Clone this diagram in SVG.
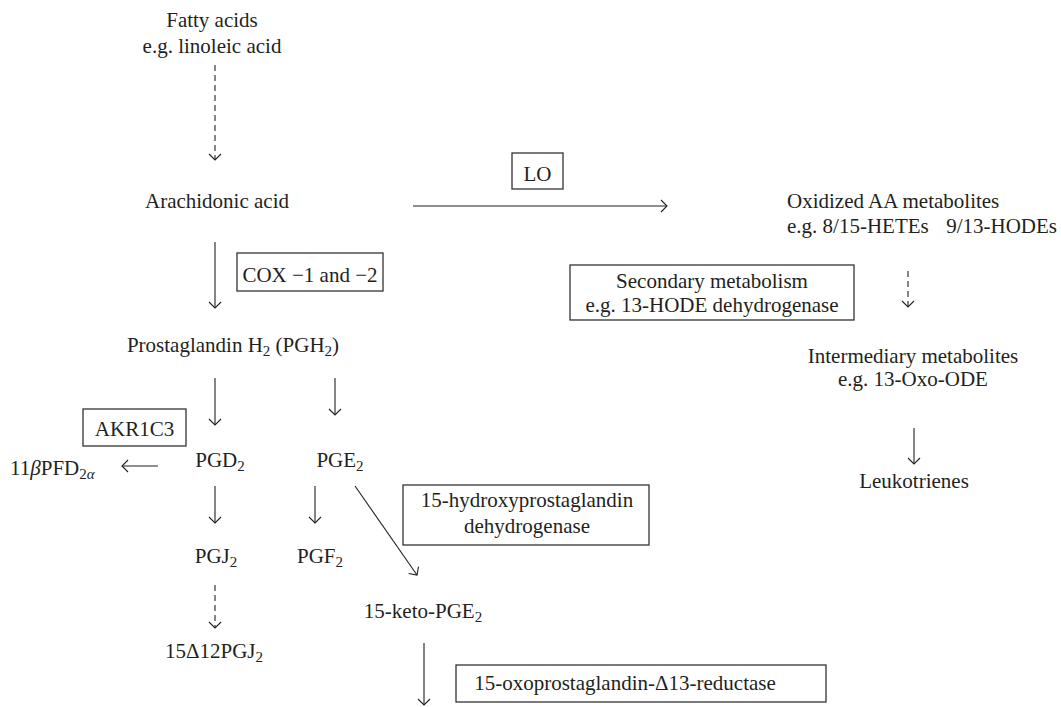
<svg xmlns="http://www.w3.org/2000/svg" width="1061" height="707" viewBox="0 0 1061 707">
<style>
text { font-family: "Liberation Serif", "Times New Roman", serif; font-size: 21px; fill: #231f20; }
.c { text-anchor: middle; }
.s { font-size: 15px; }
.box { fill: none; stroke: #333; stroke-width: 1.3; }
.ln { fill: none; stroke: #231f20; stroke-width: 1.1; marker-end: url(#ah); }
.d { stroke-dasharray: 6 4; }
</style>
<defs>
<marker id="ah" markerUnits="userSpaceOnUse" markerWidth="14" markerHeight="14" refX="7" refY="6" orient="auto" overflow="visible">
<path d="M1,0 L7,6 L1,12" fill="none" stroke="#231f20" stroke-width="1.1"/>
</marker>
</defs>
<rect width="1061" height="707" fill="#fff"/>

<g id="connectors">
<path class="ln d" d="M215,65 V160"/>
<path class="ln" d="M413,206 H667"/>
<path class="ln" d="M215,242 V308"/>
<path class="ln d" d="M908,271 V307"/>
<path class="ln" d="M914,428 V464"/>
<path class="ln" d="M215,378 V425"/>
<path class="ln" d="M335,378 V415"/>
<path class="ln" d="M158,466 H122"/>
<path class="ln" d="M215,486 V523"/>
<path class="ln" d="M315,486 V523"/>
<path class="ln" d="M355,486 L417,575"/>
<path class="ln d" d="M215,585 V628"/>
<path class="ln" d="M424,643 V705"/>
</g>

<g id="fatty-acids">
<text class="c" x="212" y="27">Fatty acids</text>
<text class="c" x="212" y="53">e.g. linoleic acid</text>
</g>
<g id="arachidonic-acid">
<text class="c" x="217" y="208">Arachidonic acid</text>
</g>
<g id="lo">
<rect class="box" x="512" y="153" width="51" height="36"/>
<text class="c" x="537.5" y="181">LO</text>
</g>
<g id="oxidized">
<text x="787" y="208">Oxidized AA metabolites</text>
<text x="787" y="233" font-size="20">e.g. 8/15-HETEs<tspan x="1057" text-anchor="end">9/13-HODEs</tspan></text>
</g>
<g id="secondary">
<rect class="box" x="570" y="265" width="284" height="55"/>
<text class="c" x="712" y="288">Secondary metabolism</text>
<text class="c" x="712" y="312">e.g. 13-HODE dehydrogenase</text>
</g>
<g id="intermediary">
<text class="c" x="913" y="363">Intermediary metabolites</text>
<text class="c" x="913" y="386">e.g. 13-Oxo-ODE</text>
</g>
<g id="leukotrienes">
<text class="c" x="914" y="488">Leukotrienes</text>
</g>
<g id="cox">
<rect class="box" x="237" y="253" width="146" height="38"/>
<text class="c" x="310" y="282">COX −1 and −2</text>
</g>
<g id="pgh2">
<text class="c" x="233" y="352">Prostaglandin H<tspan class="s" dy="4">2</tspan><tspan dy="-4"> (PGH</tspan><tspan class="s" dy="4">2</tspan><tspan dy="-4">)</tspan></text>
</g>
<g id="akr1c3">
<rect class="box" x="83" y="409" width="103" height="37"/>
<text class="c" x="134.5" y="436">AKR1C3</text>
</g>
<g id="pfd">
<text x="10" y="475">11<tspan font-style="italic">β</tspan>PFD<tspan class="s" dy="4">2<tspan font-style="italic">α</tspan></tspan></text>
</g>
<g id="pgd2">
<text class="c" x="220" y="467">PGD<tspan class="s" dy="4">2</tspan></text>
</g>
<g id="pge2">
<text class="c" x="340" y="467">PGE<tspan class="s" dy="4">2</tspan></text>
</g>
<g id="pgj2">
<text class="c" x="216" y="563">PGJ<tspan class="s" dy="4">2</tspan></text>
</g>
<g id="pgf2">
<text class="c" x="320" y="563">PGF<tspan class="s" dy="4">2</tspan></text>
</g>
<g id="d12pgj2">
<text class="c" x="214" y="658">15Δ12PGJ<tspan class="s" dy="4">2</tspan></text>
</g>
<g id="hpgd">
<rect class="box" x="403" y="485" width="246" height="60"/>
<text class="c" x="527" y="507">15-hydroxyprostaglandin</text>
<text class="c" x="527" y="533">dehydrogenase</text>
</g>
<g id="keto-pge2">
<text class="c" x="423" y="618">15-keto-PGE<tspan class="s" dy="4">2</tspan></text>
</g>
<g id="ptgr">
<rect class="box" x="456" y="665" width="370" height="37"/>
<text class="c" x="625" y="690">15-oxoprostaglandin-Δ13-reductase</text>
</g>
</svg>
